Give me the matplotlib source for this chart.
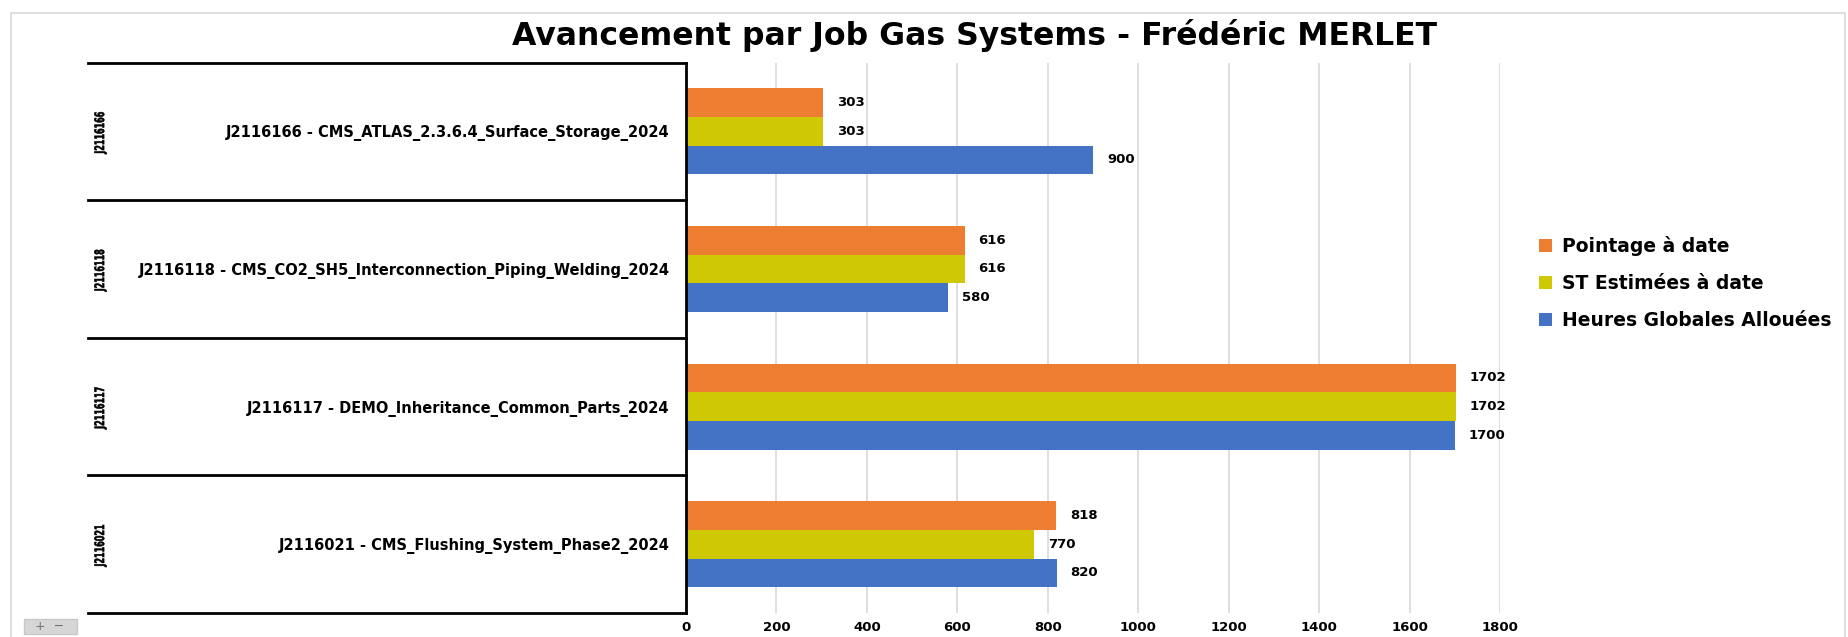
import numpy as np
import matplotlib.pyplot as plt
from matplotlib.patches import Rectangle, PathPatch
from matplotlib.textpath import TextPath
from matplotlib.font_manager import FontProperties
from matplotlib.transforms import Affine2D

codes = ['J2116166', 'J2116118', 'J2116117', 'J2116021']
names = ['J2116166 - CMS_ATLAS_2.3.6.4_Surface_Storage_2024',
         'J2116118 - CMS_CO2_SH5_Interconnection_Piping_Welding_2024',
         'J2116117 - DEMO_Inheritance_Common_Parts_2024',
         'J2116021 - CMS_Flushing_System_Phase2_2024']
pointage = [303, 616, 1702, 818]
st_estimees = [303, 616, 1702, 770]
heures = [900, 580, 1700, 820]
series = ['Pointage à date', 'ST Estimées à date', 'Heures Globales Allouées']
couleurs = ['#ED7D31', '#CFC805', '#4472C4']

W, H = 1849, 637
fig = plt.figure(figsize=(W / 100, H / 100), dpi=100)

# cadre gris clair autour du graphique
fig.patches.append(Rectangle((11 / W, -0.01), (1845 - 11) / W, (H - 13) / H + 0.01,
                             transform=fig.transFigure, fill=False,
                             edgecolor='#D9D9D9', lw=1.2))

x0, x1, y0, y1 = 686, 1500, 62.5, 613
ax = fig.add_axes([x0 / W, (H - y1) / H, (x1 - x0) / W, (y1 - y0) / H])

y = np.arange(len(codes))
h = 0.208
vals = [pointage, st_estimees, heures]
for k in range(3):
    bars = ax.barh(y + (k - 1) * h, vals[k], height=h, color=couleurs[k],
                   label=series[k], zorder=3)
    ax.bar_label(bars, padding=10, fontsize=9.5, fontweight='bold')

ax.set_xlim(0, 1800)
ax.set_ylim(len(codes) - 0.5, -0.5)
ax.set_xticks(np.arange(0, 1801, 200))
ax.grid(axis='x', color='#D9D9D9', lw=1.2, zorder=0)
for s in ['top', 'right', 'bottom']:
    ax.spines[s].set_visible(False)
ax.spines['left'].set_linewidth(2)
ax.spines['left'].set_zorder(4)
ax.tick_params(axis='both', length=0)
ax.tick_params(axis='x', labelsize=9.5, pad=6)
for t in ax.get_xticklabels():
    t.set_fontweight('bold')
ax.set_yticks(y)
ax.set_yticklabels(names, fontsize=10.5, fontweight='bold')
ax.tick_params(axis='y', pad=12)

# lignes de separation des categories
xl = (88 - x0) / (x1 - x0)
for b in np.arange(-0.5, len(codes), 1):
    ax.plot([xl, 0], [b, b], color='black', lw=2, clip_on=False,
            transform=ax.get_yaxis_transform(), zorder=5)

# codes verticaux, ecriture etroite (texte compresse)
fp = FontProperties(family='DejaVu Sans', weight='bold')
pas = (y1 - y0) / len(codes)
for i, c in enumerate(codes):
    tp = TextPath((0, 0), c, size=10, prop=fp)
    e = tp.get_extents()
    cx, cy = (e.x0 + e.x1) / 2, (e.y0 + e.y1) / 2
    py = H - (y0 + (i + 0.5) * pas + 1.8)
    tr = (Affine2D().translate(-cx, -cy).scale(42 / e.width, 12.5 / e.height)
          .rotate_deg(90).translate(100.5, py).scale(1 / W, 1 / H) + fig.transFigure)
    fig.patches.append(PathPatch(tp, transform=tr, facecolor='black',
                                 edgecolor='black', lw=0.4))

fig.text(975 / W, 1 - 35 / H, 'Avancement par Job Gas Systems - Frédéric MERLET',
         ha='center', va='center', fontsize=22.7, fontweight='bold')

leg = fig.legend(loc='upper left', bbox_to_anchor=(1522 / W, 1 - 219.5 / H),
                 frameon=False, prop={'weight': 'bold', 'size': 13.5},
                 handlelength=0.7, handleheight=0.7, labelspacing=0.95,
                 handletextpad=0.55)

# petit bouton +/- en bas a gauche
fig.patches.append(Rectangle((24 / W, 3 / H), 53 / W, 15 / H, transform=fig.transFigure,
                             facecolor='#D6D6D6', edgecolor='#C8C8C8'))
fig.text(50 / W, 10.5 / H, '+  −', ha='center', va='center', fontsize=9, color='#707070')

fig.savefig('out.png', dpi=100)
